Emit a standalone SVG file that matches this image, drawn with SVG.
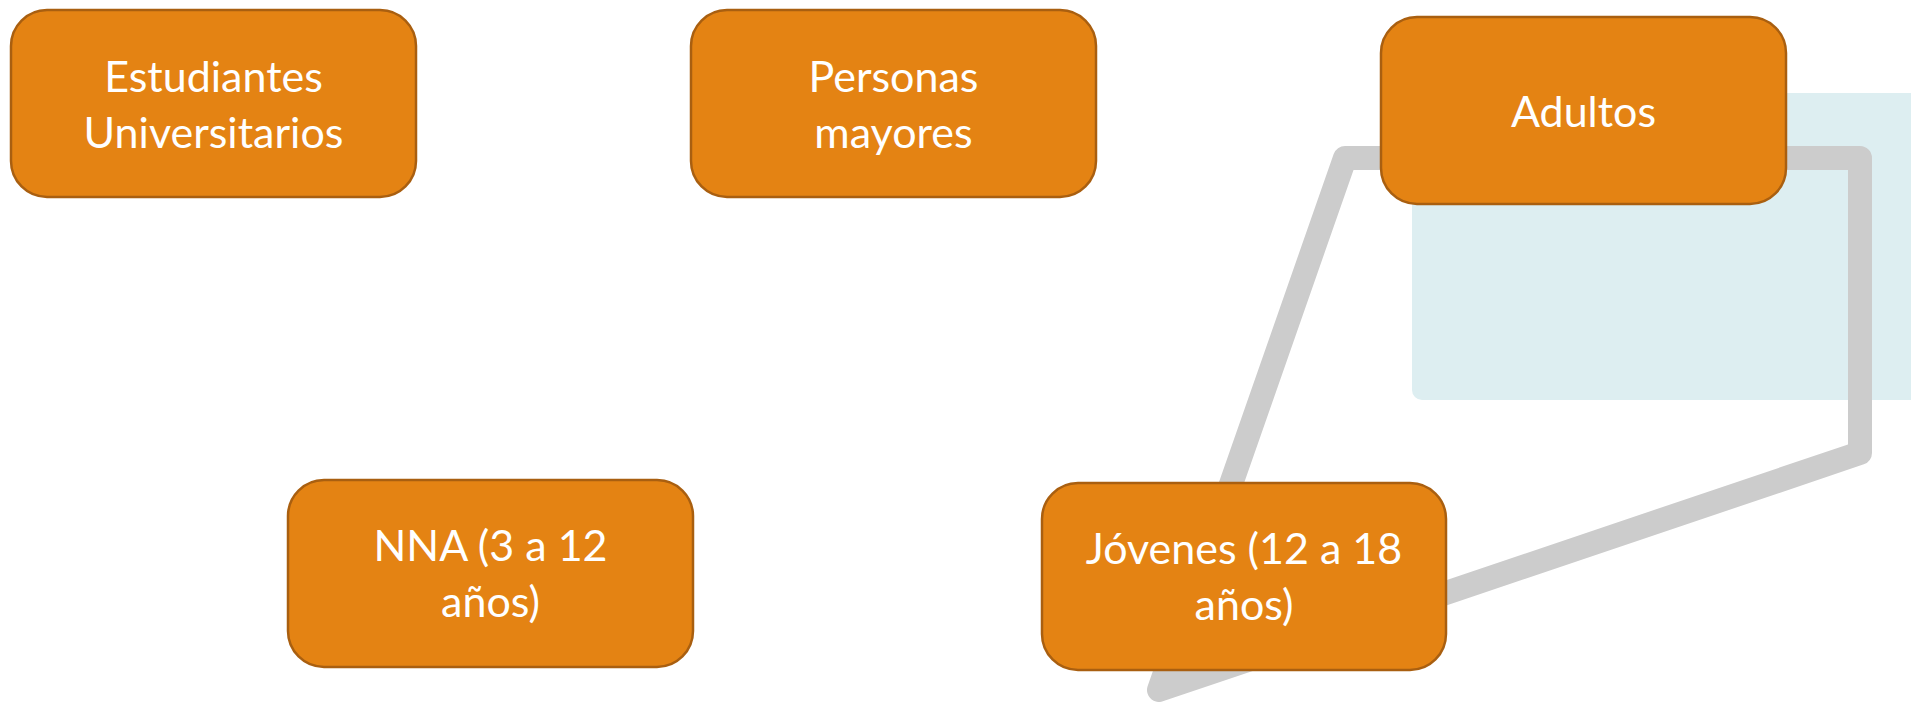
<svg xmlns="http://www.w3.org/2000/svg" width="1911" height="702" viewBox="0 0 1911 702">
<style>
.box{fill:#E48313;stroke:#A95F10;stroke-width:2.5}
.lbl{font-family:Lato,"Open Sans","Liberation Sans",sans-serif;font-size:43px;fill:#FFFFFF;text-anchor:middle}
.frame{fill:none;stroke:#CCCCCC;stroke-width:24;stroke-linejoin:round}
</style>
<rect x="1412" y="93" width="520" height="307" rx="10" fill="#DDEEF1"/>
<g id="connectors">
<path class="frame" d="M1159 690 L1345 158 L1860 158 L1860 453 Z"/>
</g>
<g id="n1">
<rect class="box" x="11" y="10" width="405" height="187" rx="36"/>
<text class="lbl" x="213.5" y="92">Estudiantes</text>
<text class="lbl" x="213.5" y="148">Universitarios</text>
</g>
<g id="n2">
<rect class="box" x="691" y="10" width="405" height="187" rx="36"/>
<text class="lbl" x="893.5" y="92">Personas</text>
<text class="lbl" x="893.5" y="148">mayores</text>
</g>
<g id="n3">
<rect class="box" x="1381" y="17" width="405" height="187" rx="36"/>
<text class="lbl" x="1583.5" y="127">Adultos</text>
</g>
<g id="n4">
<rect class="box" x="288" y="480" width="405" height="187" rx="36"/>
<text class="lbl" x="490.5" y="561">NNA (3 a 12</text>
<text class="lbl" x="490.5" y="617">años)</text>
</g>
<g id="n5">
<rect class="box" x="1042" y="483" width="404" height="187" rx="36"/>
<text class="lbl" x="1244" y="564">Jóvenes (12 a 18</text>
<text class="lbl" x="1244" y="620">años)</text>
</g>
</svg>
